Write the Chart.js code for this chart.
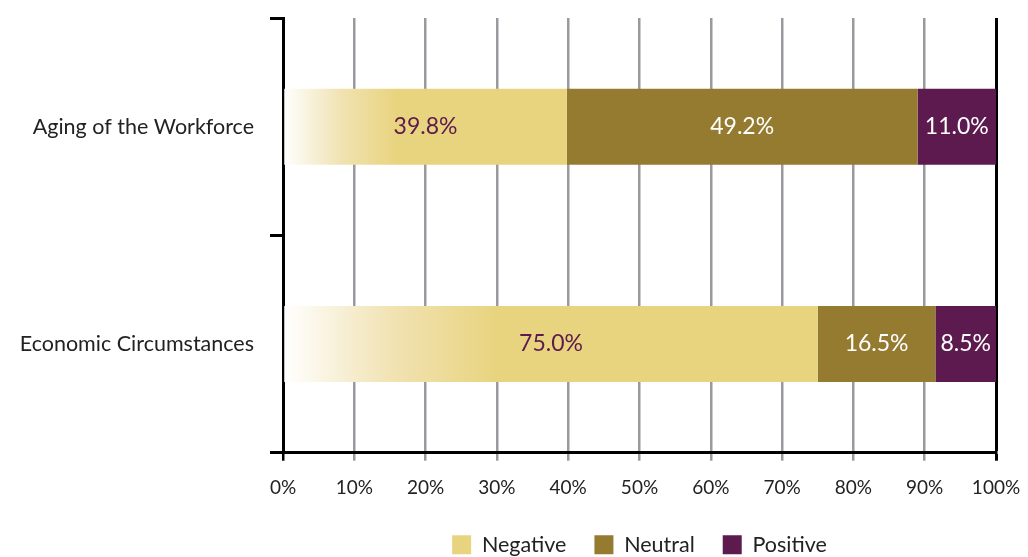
<!DOCTYPE html>
<html>
<head>
<meta charset="utf-8">
<script src="https://cdn.jsdelivr.net/npm/chart.js@4/dist/chart.umd.min.js"></script>
<style>
  html, body { margin: 0; padding: 0; background: #fff; }
  #wrap { width: 1028px; height: 557px; }
</style>
</head>
<body>
<div id="wrap"><canvas id="myChart"></canvas></div>
<script>
// setup
const categories = ["Aging of the Workforce", "Economic Circumstances"];
const negative = [39.8, 75.0];
const neutral = [49.2, 16.5];
const positive = [11.0, 8.5];
const tickValues = [0, 10, 20, 30, 40, 50, 60, 70, 80, 90, 100];

const FONT = "Lato, 'Open Sans', sans-serif";
const NEG = "#E8D47F";
const NEU = "#957B30";
const POS = "#5C1A4E";

// negative bars fade in from white on the left
function negGradient(context) {
  const chart = context.chart;
  const x = chart.scales.x;
  if (!x || !chart.chartArea) return NEG;
  const v = context.raw || 0;
  const x0 = x.getPixelForValue(0);
  const x1 = x.getPixelForValue(v);
  const g = chart.ctx.createLinearGradient(x0, 0, x0 + (x1 - x0) * 0.4, 0);
  g.addColorStop(0, "#ffffff");
  g.addColorStop(0.5, "#F1E3B4");
  g.addColorStop(1, NEG);
  return g;
}

// value labels inside bars
const barLabels = {
  id: "barLabels",
  afterDatasetsDraw(chart) {
    const ctx = chart.ctx;
    ctx.save();
    ctx.font = "23px " + FONT;
    ctx.textAlign = "center";
    ctx.textBaseline = "middle";
    chart.data.datasets.forEach((ds, i) => {
      const meta = chart.getDatasetMeta(i);
      meta.data.forEach((el, j) => {
        ctx.fillStyle = i === 0 ? POS : "#ffffff";
        ctx.fillText(ds.data[j].toFixed(1) + "%", (el.x + el.base) / 2, el.y);
      });
    });
    ctx.restore();
  },
};

// put the legend row near the bottom edge
const legendSpot = {
  id: "legendSpot",
  afterLayout(chart) {
    const lg = chart.legend;
    if (!lg) return;
    const h = lg.bottom - lg.top;
    lg.top = 545 - 28 - 11;
    lg.bottom = lg.top + h;
  },
};

// no extra room for tick label overhang
const noPad = (s) => {
  s.paddingTop = 0;
  s.paddingBottom = 0;
  s.paddingLeft = 0;
  s.paddingRight = 0;
};

const data = {
  labels: categories,
  datasets: [
    { label: "Negative", data: negative, backgroundColor: negGradient },
    { label: "Neutral", data: neutral, backgroundColor: NEU },
    { label: "Positive", data: positive, backgroundColor: POS },
  ],
};

// config
const config = {
  type: "bar",
  data,
  plugins: [barLabels, legendSpot],
  options: {
    indexAxis: "y",
    responsive: true,
    maintainAspectRatio: false,
    animation: false,
    datasets: {
      bar: { barPercentage: 0.35, categoryPercentage: 1.0, borderWidth: 0 },
    },
    layout: { padding: { top: 18, right: 32, left: 0, bottom: -18 } },
    scales: {
      x: {
        stacked: true,
        min: 0,
        max: 100,
        afterBuildTicks: (s) => { s.ticks = tickValues.map((v) => ({ value: v })); },
        afterFit: noPad,
        border: { display: true, color: "#000", width: 3 },
        grid: {
          color: (c) => (c.tick && (c.tick.value === 100 || c.tick.value === 0) ? "#000" : "#9A9A9E"),
          lineWidth: (c) => (c.tick && c.tick.value === 100 ? 3 : 2.5),
          tickLength: 8,
        },
        ticks: {
          color: "#222",
          font: { family: FONT, size: 19 },
          padding: 16,
          maxRotation: 0,
          callback: (v) => v + "%",
        },
      },
      y: {
        stacked: true,
        afterFit: (s) => { noPad(s); s.width = 283; },
        border: { display: true, color: "#000", width: 3 },
        grid: {
          offset: true,
          drawOnChartArea: false,
          drawTicks: true,
          tickLength: 13,
          color: "#000",
          lineWidth: 3,
        },
        ticks: {
          color: "#222",
          font: { family: FONT, size: 21.5 },
          padding: 16,
        },
      },
    },
    plugins: {
      legend: {
        position: "bottom",
        fullSize: false,
        labels: {
          color: "#222",
          font: { family: FONT, size: 21.5 },
          boxWidth: 19,
          boxHeight: 19,
          padding: 28,
        },
      },
      tooltip: { enabled: false },
    },
  },
};

// render init block
const myChart = new Chart(document.getElementById("myChart"), config);
</script>
</body>
</html>
